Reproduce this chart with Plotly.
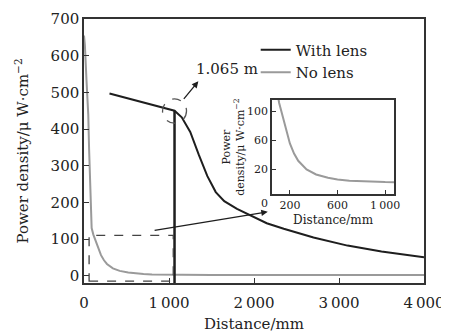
import plotly.graph_objects as go

# ---- data ----
no_lens_x = [0, 10, 30, 50, 60, 75, 90, 110, 132, 165, 200, 235, 270, 340, 420, 520, 600, 700, 800, 1000, 1500, 2000, 3000, 4000]
no_lens_y = [655, 630, 530, 440, 345, 220, 130, 112, 98, 77, 56, 42, 32, 20, 13, 8.5, 6, 4.5, 3.5, 2.5, 2, 2, 1.5, 1.5]

with_lens_x = [300, 500, 700, 900, 1065, 1150, 1250, 1350, 1450, 1550, 1650, 1800, 1950, 2150, 2350, 2700, 3100, 3500, 4000]
with_lens_y = [497, 485, 472, 462, 450, 432, 392, 330, 272, 228, 203, 182, 165, 143, 128, 104, 82, 66, 50]

focus_x = 1065
focus_label = "1.065 m"

x_ticks = [0, 1000, 2000, 3000, 4000]
x_ticktext = ["0", "1\u2009000", "2\u2009000", "3\u2009000", "4\u2009000"]
y_ticks = [0, 100, 200, 300, 400, 500, 600, 700]

inset_x_ticks = [200, 600, 1000]
inset_x_ticktext = ["200", "600", "1\u2009000"]
inset_y_ticks = [20, 60, 100]

FONT = "DejaVu Serif"
BLACK = "#1e1e1e"
GRAY = "#9a9a9a"
FRAME = "#333333"

focus_y = with_lens_y[with_lens_x.index(focus_x)]

fig = go.Figure()
fig.add_trace(go.Scatter(x=with_lens_x, y=with_lens_y, mode="lines", name="With lens",
                         line=dict(color=BLACK, width=2)))
fig.add_trace(go.Scatter(x=no_lens_x, y=no_lens_y, mode="lines", name="No lens",
                         line=dict(color=GRAY, width=2)))
# vertical focus line
fig.add_trace(go.Scatter(x=[focus_x, focus_x], y=[-20, focus_y], mode="lines", showlegend=False,
                         line=dict(color=BLACK, width=2.5)))
# inset curve
fig.add_trace(go.Scatter(x=no_lens_x, y=no_lens_y, mode="lines", showlegend=False,
                         line=dict(color=GRAY, width=2), xaxis="x2", yaxis="y2"))

axis_common = dict(showline=True, linecolor=FRAME, linewidth=1.5, mirror=True,
                   showgrid=False, zeroline=False, ticks="inside", tickcolor=FRAME,
                   automargin=False)

fig.update_layout(
    width=441, height=325,
    margin=dict(l=76, r=25, t=11, b=50),
    paper_bgcolor="white", plot_bgcolor="white",
    font=dict(family=FONT, size=15, color="#222"),
    xaxis=dict(range=[0, 4000], tickvals=x_ticks, ticktext=x_ticktext, ticklen=5,
               ticklabelstandoff=5,
               title=dict(text="Distance/mm", font=dict(size=15), standoff=14), **axis_common),
    yaxis=dict(range=[-20, 700], tickvals=y_ticks, ticklen=5,
               title=dict(text="Power density/μ W·cm<sup>−2</sup>", font=dict(size=15), standoff=18),
               **axis_common),
    xaxis2=dict(domain=[0.553, 0.912], anchor="y2", range=[50, 1075], tickvals=inset_x_ticks,
                ticktext=inset_x_ticktext, ticklen=4, tickfont=dict(size=11),
                title=dict(text="Distance/mm", font=dict(size=12), standoff=5), **axis_common),
    yaxis2=dict(domain=[0.337, 0.693], anchor="x2", range=[-14, 116], tickvals=inset_y_ticks,
                ticklen=4, tickfont=dict(size=11),
                title=dict(text="Power<br>density/μ W·cm<sup>−2</sup>", font=dict(size=11), standoff=0),
                **axis_common),
    legend=dict(x=0.505, y=0.945, xanchor="left", yanchor="top", bgcolor="rgba(0,0,0,0)",
                font=dict(size=15), itemwidth=30, tracegroupgap=0),
    showlegend=True,
)

# dashed zoom rectangle
fig.add_shape(type="rect", xref="x", yref="y", x0=60, x1=1050, y0=-15, y1=110,
              line=dict(color="#444", width=1.3, dash="dash"))
# dashed circle around focus
fig.add_shape(type="circle", xref="x", yref="y", x0=focus_x - 141, x1=focus_x + 141,
              y0=focus_y - 34, y1=focus_y + 32, line=dict(color="#555", width=1.3, dash="dash"))

# arrow from circle toward label
fig.add_annotation(x=1345, y=530, ax=1160, ay=478, xref="x", yref="y", axref="x", ayref="y",
                   text="", showarrow=True, arrowhead=2, arrowsize=1, arrowwidth=1.3, arrowcolor=BLACK)
fig.add_annotation(x=1680, y=565, xref="x", yref="y", text=focus_label, showarrow=False,
                   font=dict(size=15))
# arrow from zoom rectangle to inset
fig.add_annotation(x=2162, y=174, ax=813, ay=123, xref="x", yref="y", axref="x", ayref="y",
                   text="", showarrow=True, arrowhead=2, arrowsize=1, arrowwidth=1.3, arrowcolor=BLACK)
# inset origin label
fig.add_annotation(x=50, y=-14, xref="x2", yref="y2", text="0", showarrow=False,
                   xanchor="right", yanchor="top", font=dict(size=11), xshift=-2, yshift=-1)

fig.write_html("out.html")
